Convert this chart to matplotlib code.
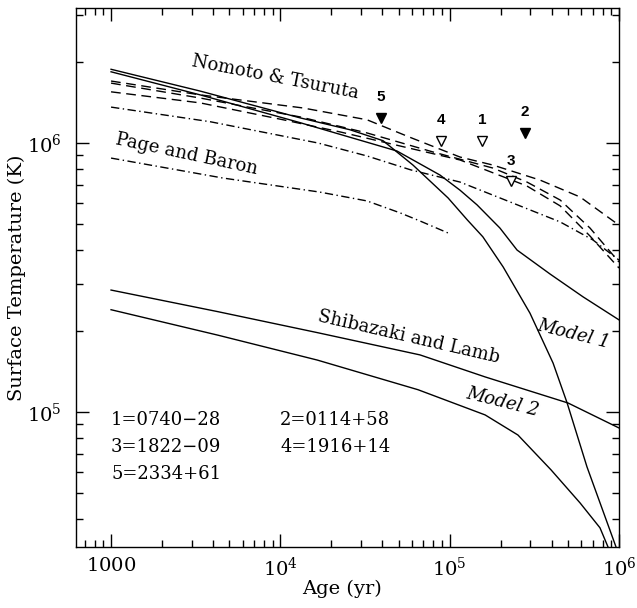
"""Surface temperature vs age: cooling curves and pulsar upper limits."""

import math

import matplotlib
matplotlib.use("Agg")
import matplotlib.pyplot as plt
from matplotlib.ticker import FuncFormatter, LogLocator

plt.rcParams["font.family"] = "DejaVu Serif"
plt.rcParams["mathtext.fontset"] = "dejavuserif"

# ----- Curves (age in yr, temperature in K) -----

# Nomoto & Tsuruta, solid (the one that stays shallower, ends at right edge)
nt_solid1_age = [1e3, 3.36e3, 1.31e4, 4.88e4, 8.77e4, 1.15e5, 1.45e5, 1.98e5, 2.50e5, 3.91e5, 6.13e5, 1e6]
nt_solid1_temp = [1.84e6, 1.51e6, 1.19e6, 9.34e5, 7.60e5, 6.68e5, 5.89e5, 4.83e5, 4.00e5, 3.26e5, 2.68e5, 2.20e5]

# Nomoto & Tsuruta, solid (steep drop)
nt_solid2_age = [1e3, 3.36e3, 1.31e4, 2.58e4, 4.04e4, 6.07e4, 9.78e4, 1.27e5, 1.57e5, 2.07e5,
                 2.98e5, 4.08e5, 4.94e5, 6.47e5, 9.60e5]
nt_solid2_temp = [1.88e6, 1.56e6, 1.24e6, 1.12e6, 1.02e6, 8.28e5, 6.25e5, 5.18e5, 4.48e5, 3.46e5,
                  2.33e5, 1.52e5, 1.08e5, 6.25e4, 3.15e4]

# Nomoto & Tsuruta, dashed
nt_dash1_age = [1e3, 3.36e3, 1.36e4, 3.25e4, 5.83e4, 1.15e5, 1.80e5, 3.42e5, 5.89e5, 1e6]
nt_dash1_temp = [1.70e6, 1.51e6, 1.35e6, 1.22e6, 1.05e6, 8.87e5, 8.28e5, 7.28e5, 6.30e5, 4.95e5]

nt_dash2_age = [1e3, 3.36e3, 1.31e4, 3.25e4, 7.98e4, 1.80e5, 2.86e5, 4.49e5, 6.74e5, 1e6]
nt_dash2_temp = [1.67e6, 1.47e6, 1.25e6, 1.09e6, 9.26e5, 8.07e5, 7.16e5, 6.14e5, 4.83e5, 3.61e5]

nt_dash3_age = [1e3, 3.36e3, 1.04e4, 2.25e4, 5.09e4, 1.15e5, 2.86e5, 4.49e5, 6.74e5, 1e6]
nt_dash3_temp = [1.55e6, 1.41e6, 1.22e6, 1.10e6, 9.75e5, 8.65e5, 6.92e5, 5.84e5, 4.51e5, 3.43e5]

# Page and Baron, dash-dot
pb1_age = [1e3, 3.85e3, 1.67e4, 3.25e4, 5.91e4, 1.15e5, 2.27e5, 4.49e5, 7.02e5, 1e6]
pb1_temp = [1.36e6, 1.20e6, 1.00e6, 8.95e5, 7.94e5, 7.16e5, 6.04e5, 5.09e5, 4.36e5, 3.67e5]

pb2_age = [1e3, 4.58e3, 1.71e4, 3.25e4, 5.09e4, 6.68e4, 9.78e4]
pb2_temp = [8.79e5, 7.41e5, 6.57e5, 6.09e5, 5.50e5, 5.13e5, 4.63e5]

# Shibazaki and Lamb
sl_age = [1e3, 4.28e3, 1.67e4, 6.68e4, 1.62e5, 5.0e5, 1e6]
sl_temp = [2.84e5, 2.36e5, 1.97e5, 1.63e5, 1.35e5, 1.08e5, 8.72e4]

# Model 2
m2_age = [1e3, 4.28e3, 1.65e4, 6.50e4, 1.62e5, 2.53e5, 3.97e5, 5.89e5, 7.72e5, 8.61e5]
m2_temp = [2.40e5, 1.93e5, 1.56e5, 1.21e5, 9.75e4, 8.21e4, 6.09e4, 4.59e4, 3.71e4, 3.15e4]

# ----- Pulsar upper limits -----
psr_id = ["1", "2", "3", "4", "5"]
psr_name = ["0740\u221228", "0114+58", "1822\u221209", "1916+14", "2334+61"]
psr_age = [1.55e5, 2.79e5, 2.30e5, 8.90e4, 3.93e4]
psr_temp = [1.02e6, 1.09e6, 7.20e5, 1.02e6, 1.24e6]
psr_filled = [False, True, False, False, True]

# ----- Plot -----
fig = plt.figure(figsize=(6.37, 6.08), dpi=100)
ax = fig.add_axes([76 / 637, 61 / 608, 543 / 637, 539 / 608])
ax.set_xscale("log")
ax.set_yscale("log")
ax.set_xlim(10**2.793, 1e6)
ax.set_ylim(10**4.498, 10**6.502)

lw = 1.0
dash = (0, (7, 4))
dashdot = (0, (6, 2.5, 1, 2.5))

ax.plot(nt_solid1_age, nt_solid1_temp, color="black", lw=lw)
ax.plot(nt_solid2_age, nt_solid2_temp, color="black", lw=lw)
ax.plot(nt_dash1_age, nt_dash1_temp, color="black", lw=lw, linestyle=dash)
ax.plot(nt_dash2_age, nt_dash2_temp, color="black", lw=lw, linestyle=dash)
ax.plot(nt_dash3_age, nt_dash3_temp, color="black", lw=lw, linestyle=dash)
ax.plot(pb1_age, pb1_temp, color="black", lw=lw, linestyle=dashdot)
ax.plot(pb2_age, pb2_temp, color="black", lw=lw, linestyle=dashdot)
ax.plot(sl_age, sl_temp, color="black", lw=lw)
ax.plot(m2_age, m2_temp, color="black", lw=lw)

for pid, a, t, filled in zip(psr_id, psr_age, psr_temp, psr_filled):
    ax.plot(a, t, marker="v", ms=7.5, mec="black", mew=1.0,
            mfc="black" if filled else "white", linestyle="none")
    ax.annotate(pid, (a, t), xytext=(0, 15), textcoords="offset points",
                ha="center", va="center", fontsize=11, fontweight="bold",
                family="Liberation Sans")

# legend of pulsar names, two columns
col_x = [0.0645, 0.3757]
row_y = [0.2356, 0.1855, 0.1354]
for i, (pid, name) in enumerate(zip(psr_id, psr_name)):
    ax.text(col_x[i % 2], row_y[i // 2], pid + "=" + name, transform=ax.transAxes,
            ha="left", va="center", fontsize=13)

# curve labels
ax.text(9.3e3, 1.75e6, "Nomoto & Tsuruta", rotation=-11, fontsize=13,
        ha="center", va="center", rotation_mode="anchor")
ax.text(2.81e3, 9.1e5, "Page and Baron", rotation=-12, fontsize=13,
        ha="center", va="center", rotation_mode="anchor")
ax.text(5.76e4, 1.90e5, "Shibazaki and Lamb", rotation=-13, fontsize=13,
        ha="center", va="center", rotation_mode="anchor")
ax.text(5.42e5, 1.95e5, "Model 1", rotation=-14, fontsize=13, style="italic",
        ha="center", va="center", rotation_mode="anchor")
ax.text(2.04e5, 1.09e5, "Model 2", rotation=-14, fontsize=13, style="italic",
        ha="center", va="center", rotation_mode="anchor")


def log_label(v, pos):
    n = round(math.log10(v))
    if n == 3:
        return r"$1000$"
    return r"$10^{%d}$" % n


# axes and ticks
ax.xaxis.set_major_locator(LogLocator(base=10, numticks=10))
ax.xaxis.set_major_formatter(FuncFormatter(log_label))
ax.yaxis.set_major_formatter(FuncFormatter(log_label))
ax.tick_params(which="both", direction="in", top=True, right=True, width=1.0)
ax.tick_params(which="major", length=9.5, labelsize=14)
ax.tick_params(axis="x", which="major", pad=7)
ax.tick_params(axis="y", which="major", pad=10)
ax.tick_params(which="minor", length=5)
for s in ax.spines.values():
    s.set_linewidth(1.0)

ax.set_xlabel("Age (yr)", fontsize=14)
ax.set_ylabel("Surface Temperature (K)", fontsize=14)
ax.xaxis.set_label_coords(0.49, -0.06)
ax.yaxis.set_label_coords(-0.092, 0.5)

fig.savefig("out.png", dpi=100)
